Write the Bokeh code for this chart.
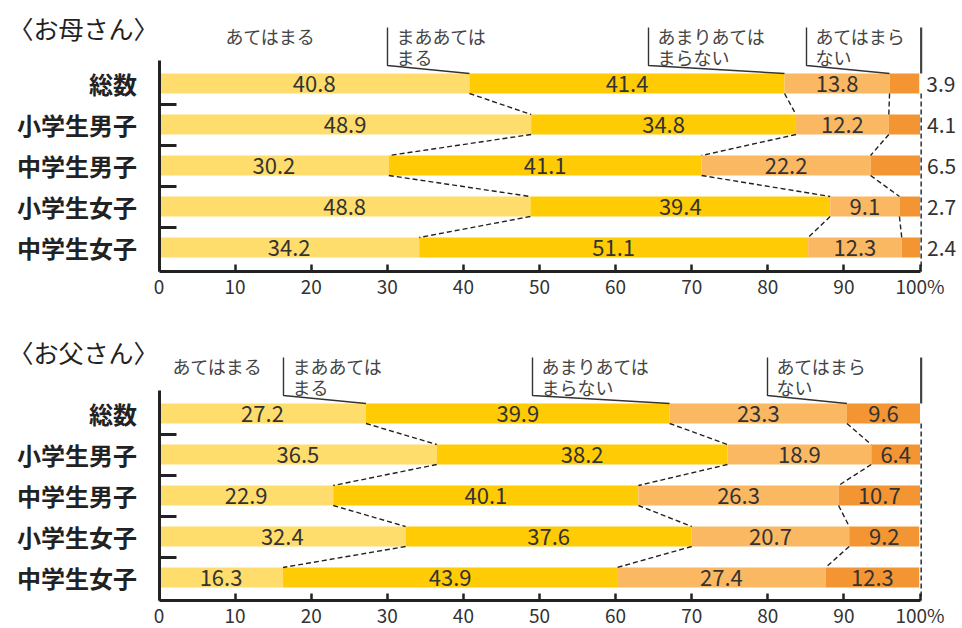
import numpy as np
from bokeh.plotting import figure
from bokeh.models import Range1d, FixedTicker, ColumnDataSource
from bokeh.layouts import column
from bokeh.embed import file_html
from bokeh.resources import INLINE
from bokeh.core.properties import value

# ---------------- data ----------------
groups = ["総数", "小学生男子", "中学生男子", "小学生女子", "中学生女子"]
answers = ["あてはまる", "まああては\nまる", "あまりあては\nまらない", "あてはまら\nない"]

mother_fit = [40.8, 48.9, 30.2, 48.8, 34.2]
mother_somewhat = [41.4, 34.8, 41.1, 39.4, 51.1]
mother_notmuch = [13.8, 12.2, 22.2, 9.1, 12.3]
mother_not = [3.9, 4.1, 6.5, 2.7, 2.4]

father_fit = [27.2, 36.5, 22.9, 32.4, 16.3]
father_somewhat = [39.9, 38.2, 40.1, 37.6, 43.9]
father_notmuch = [23.3, 18.9, 26.3, 20.7, 27.4]
father_not = [9.6, 6.4, 10.7, 9.2, 12.3]

x_ticks = [0, 10, 20, 30, 40, 50, 60, 70, 80, 90, 100]
x_tick_labels = ["0", "10", "20", "30", "40", "50", "60", "70", "80", "90", "100%"]

# ---------------- style ----------------
W = 962
X0_PX = 158.5        # pixel position of 0 %
PX_X = 7.61          # pixels per percent
PX_ROW = 41          # pixels per row
FONT = "Noto Sans CJK JP"
COLORS = ["#FEDD6C", "#FECB05", "#FBB862", "#F39533"]
TXT = "#333333"


def panel(title, series, first_label_px, callout_px, last_outside, H, row_top_px, axis_gap, title_up):
    n = len(groups)
    ys = list(range(n - 1, -1, -1))
    top_y = ys[0]
    x_start = -X0_PX / PX_X
    x_end = (W - X0_PX) / PX_X
    y_end = top_y + row_top_px / PX_ROW
    y_start = top_y + (row_top_px - H) / PX_ROW
    y_axis = -axis_gap / PX_ROW
    p = figure(width=W, height=H, x_range=Range1d(x_start, x_end), y_range=Range1d(y_start, y_end),
               output_backend="svg", toolbar_location=None,
               min_border_left=0, min_border_right=0, min_border_top=0, min_border_bottom=0)
    p.outline_line_color = None
    p.grid.visible = False

    bar_h = 20 / PX_ROW
    left = np.zeros(n)
    rights = []
    for k, vals in enumerate(series):
        vals = np.array(vals, dtype=float)
        right = left + vals
        rights.append(right)
        src = ColumnDataSource(dict(y=ys, left=left, right=right, mid=(left + right) / 2,
                                    end=right + 7 / PX_X,
                                    lab=[f"{v:.1f}" for v in vals]))
        p.hbar(y="y", left="left", right="right", height=bar_h, fill_color=COLORS[k],
               line_color=None, source=src)
        if k == len(series) - 1 and last_outside:
            p.text(x="end", y="y", text="lab", text_align="left", text_baseline="middle",
                   text_font=value(FONT), text_font_size="21px", text_color=TXT, source=src)
        else:
            p.text(x="mid", y="y", text="lab", text_align="center", text_baseline="middle",
                   text_font=value(FONT), text_font_size="22px", text_color=TXT, source=src)
        left = right

    # dashed connectors between rows
    x0s, y0s, x1s, y1s = [], [], [], []
    for k in range(len(series) - 1):
        for i in range(n - 1):
            x0s.append(rights[k][i]); y0s.append(ys[i] - bar_h / 2)
            x1s.append(rights[k][i + 1]); y1s.append(ys[i + 1] + bar_h / 2)
    xr = x_ticks[-1] + 0.15
    x0s.append(xr); y0s.append(top_y - bar_h / 2)
    x1s.append(xr); y1s.append(y_axis)
    p.segment(x0=x0s, y0=y0s, x1=x1s, y1=y1s, line_color="#222222", line_width=1.4,
              line_dash="5 3")

    # callouts
    y_co_top = top_y + 56 / PX_ROW
    y_elbow = top_y + 18 / PX_ROW
    y_bar_top = top_y + bar_h / 2
    y_l1 = top_y + 48 / PX_ROW
    y_l2 = top_y + 27 / PX_ROW
    lab_kw = dict(text_align="left", text_baseline="middle", text_font=value(FONT),
                  text_font_size="18px", text_color="#444444")
    p.text(x=[(first_label_px - X0_PX) / PX_X], y=[y_l1], text=[answers[0]], **lab_kw)
    for k in range(1, len(answers)):
        vx = (callout_px[k - 1] - X0_PX) / PX_X
        p.line(x=[vx, vx, rights[k - 1][0]], y=[y_co_top, y_elbow, y_bar_top],
               line_color="#333333", line_width=1.4)
        lines = answers[k].split("\n")
        tx = vx + 9 / PX_X
        p.text(x=[tx], y=[y_l1], text=[lines[0]], **lab_kw)
        p.text(x=[tx], y=[y_l2], text=[lines[1]], **lab_kw)
    p.segment(x0=[xr], y0=[y_co_top], x1=[xr], y1=[y_bar_top],
              line_color="#444444", line_width=2.2)

    # panel title
    p.text(x=[(8 - X0_PX) / PX_X], y=[top_y + title_up / PX_ROW], text=[title],
           text_align="left", text_baseline="middle", text_font=value(FONT),
           text_font_size="25px", text_color="#222222")

    # axes
    xa = p.xaxis[0]
    xa.fixed_location = y_axis
    xa.ticker = FixedTicker(ticks=x_ticks)
    xa.major_label_overrides = {t: s for t, s in zip(x_ticks, x_tick_labels)}
    xa.bounds = (x_ticks[0], x_ticks[-1])
    xa.axis_line_width = 3
    xa.axis_line_color = "#222222"
    xa.major_tick_in = 7
    xa.major_tick_out = 0
    xa.major_tick_line_width = 2.5
    xa.major_tick_line_color = "#222222"
    xa.minor_tick_line_color = None
    xa.major_label_text_font = FONT
    xa.major_label_text_font_size = "19px"
    xa.major_label_text_color = TXT
    xa.major_label_standoff = 0

    ya = p.yaxis[0]
    ya.fixed_location = 0
    ya.ticker = FixedTicker(ticks=ys, minor_ticks=[i + 0.5 for i in range(n - 1)])
    ya.major_label_overrides = {y: g for y, g in zip(ys, groups)}
    ya.bounds = (y_axis, top_y + 23 / PX_ROW)
    ya.axis_line_width = 3
    ya.axis_line_color = "#222222"
    ya.major_tick_in = 0
    ya.major_tick_out = 0
    ya.minor_tick_in = 17
    ya.minor_tick_out = 0
    ya.minor_tick_line_width = 3
    ya.minor_tick_line_color = "#222222"
    ya.major_label_text_font = FONT
    ya.major_label_text_font_style = "bold"
    ya.major_label_text_font_size = "24px"
    ya.major_label_text_color = "#222222"
    ya.major_label_standoff = 22
    return p


p1 = panel("〈お母さん〉", [mother_fit, mother_somewhat, mother_notmuch, mother_not],
           225, [387, 648, 806], True, 306, 83, 24, 56)
p2 = panel("〈お父さん〉", [father_fit, father_somewhat, father_notmuch, father_not],
           172, [283, 532, 767], False, 322, 107, 23, 62)

layout = column(p1, p2, spacing=0)
open("out.html", "w").write(file_html(layout, INLINE))
